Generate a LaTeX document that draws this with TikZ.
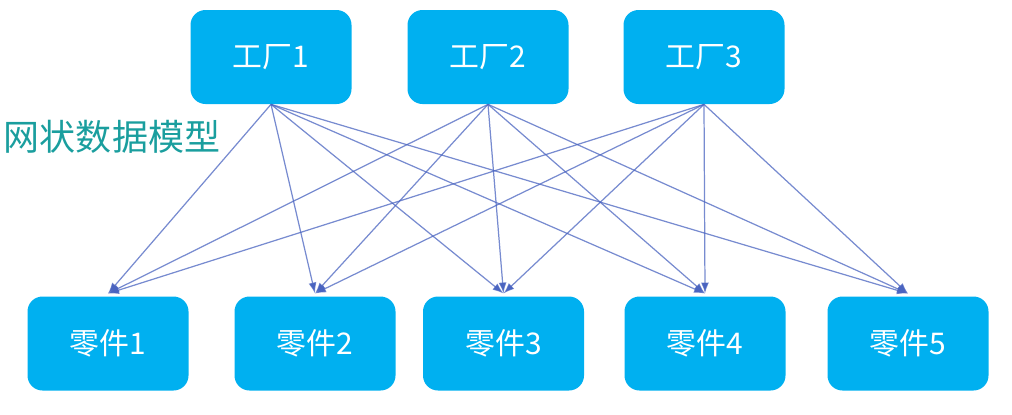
\documentclass[tikz,border=0pt]{standalone}
\usepackage{fontspec}
\setmainfont{Noto Sans CJK SC}
\usetikzlibrary{arrows.meta,positioning}

\definecolor{boxblue}{HTML}{00B0F0}
\definecolor{linkblue}{HTML}{4A64C0}
\definecolor{titleteal}{HTML}{1A9E9E}

\begin{document}
\begin{tikzpicture}[
		block/.style={draw=none, fill=boxblue, rounded corners=0.3cm, minimum height=1.88cm, minimum width=3.22cm, text=white, font=\fontsize{17}{19}\selectfont},
		link/.style={draw=linkblue, draw opacity=0.75, line width=0.7pt, -{Latex[length=2.2mm, width=1.6mm]}}
	]
		\useasboundingbox (0,0) rectangle (20.24,-8.28);

		\node[block] (f1) at (5.42,-1.14) {工厂1};
		\node[block] (f2) at (9.76,-1.14) {工厂2};
		\node[block] (f3) at (14.08,-1.14) {工厂3};

		\node[text=titleteal, font=\fontsize{20.5}{22}\selectfont] (title) at (2.24,-2.74) {网状数据模型};

		\node[block] (p1) at (2.16,-6.87) {零件1};
		\node[block] (p2) at (6.30,-6.87) {零件2};
		\node[block] (p3) at (10.07,-6.87) {零件3};
		\node[block] (p4) at (14.10,-6.87) {零件4};
		\node[block] (p5) at (18.16,-6.87) {零件5};

		\foreach \f in {1,2,3}
			\foreach \p in {1,...,5}
				\draw[link] (f\f.south) -- ([yshift=1.5pt]p\p.north);
	\end{tikzpicture}
\end{document}
